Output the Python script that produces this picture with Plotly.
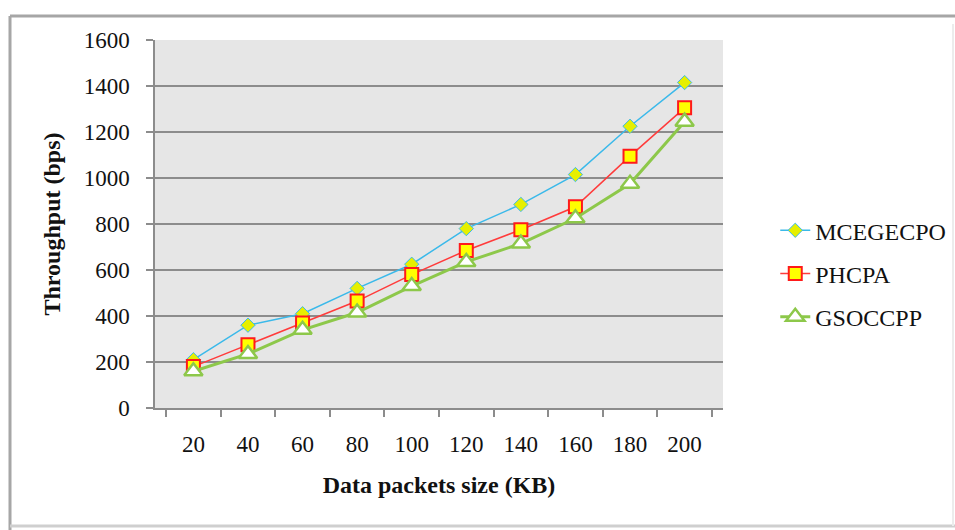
import plotly.graph_objects as go

# Data packet sizes (KB) and measured throughput (bps)
packet_sizes = ["20", "40", "60", "80", "100", "120", "140", "160", "180", "200"]
mcegecpo = [210, 360, 410, 520, 625, 780, 885, 1015, 1225, 1415]
phcpa = [180, 275, 370, 465, 580, 685, 775, 875, 1095, 1305]
gsoccpp = [160, 235, 340, 415, 530, 635, 715, 825, 975, 1245]
y_ticks = [0, 200, 400, 600, 800, 1000, 1200, 1400, 1600]

SERIF = "Liberation Serif"
GRID = "#8c8c8c"

fig = go.Figure()

fig.add_trace(go.Scatter(
    x=packet_sizes, y=mcegecpo, name="MCEGECPO", mode="lines+markers",
    legendgroup="a",
    line=dict(color="#3ab9ea", width=1.5),
    marker=dict(symbol="diamond", size=11, color="#e6ef00",
                line=dict(color="#3ab9ea", width=1)),
))
fig.add_trace(go.Scatter(
    x=packet_sizes, y=phcpa, name="PHCPA", mode="lines+markers",
    legendgroup="b",
    line=dict(color="#ff3b3b", width=1.5),
    marker=dict(symbol="square", size=13, color="#ffff00",
                line=dict(color="#ff1a1a", width=2)),
))
fig.add_trace(go.Scatter(
    x=packet_sizes, y=gsoccpp, name="GSOCCPP", mode="lines+markers",
    legendgroup="c",
    line=dict(color="#8dc84a", width=3),
    marker=dict(symbol="triangle-up", size=16, color="#ffffff",
                line=dict(color="#8dc84a", width=2.5)),
))

# outer chart frame
L, R, T, B = 155, 723, 40, 408
def px(x):
    return (x - L) / (R - L)
def py(y):
    return (B - y) / (B - T)

frame = [
    dict(x0=px(10), x1=px(955), y0=py(16), y1=py(16), color="#a6a6a6", width=3),
    dict(x0=px(10), x1=px(10), y0=py(16), y1=py(530), color="#a6a6a6", width=3),
    dict(x0=px(10), x1=px(955), y0=py(526), y1=py(526), color="#cfcfcf", width=3),
    dict(x0=px(953), x1=px(953), y0=py(24), y1=py(526), color="#ececec", width=2),
]
shapes = [
    dict(type="line", xref="paper", yref="paper", x0=f["x0"], x1=f["x1"],
         y0=f["y0"], y1=f["y1"], line=dict(color=f["color"], width=f["width"]),
         layer="above")
    for f in frame
]

fig.update_layout(
    width=955, height=530,
    margin=dict(l=L, r=955 - R, t=T, b=530 - B, autoexpand=False),
    paper_bgcolor="white",
    plot_bgcolor="#e6e6e6",
    font=dict(family=SERIF, color="#111111", size=23),
    showlegend=True,
    legend=dict(
        x=1.092, xanchor="left", y=0.543, yanchor="top",
        font=dict(family=SERIF, size=24, color="#111111"),
        tracegroupgap=9, bgcolor="rgba(0,0,0,0)",
    ),
    shapes=shapes,
    xaxis=dict(
        type="category",
        tickson="boundaries",
        ticks="outside", ticklen=7, tickcolor=GRID, tickwidth=1.5,
        showline=True, linecolor=GRID, linewidth=1.5,
        showgrid=False, zeroline=False,
        ticklabelstandoff=15,
        tickfont=dict(family=SERIF, size=23),
        title=dict(text="<b>Data packets size (KB)</b>",
                   font=dict(family=SERIF, size=24), standoff=20),
    ),
    yaxis=dict(
        range=[0, 1600], tickvals=y_ticks,
        ticks="outside", ticklen=7, tickcolor=GRID, tickwidth=1.5,
        showline=True, linecolor=GRID, linewidth=1.5,
        showgrid=True, gridcolor=GRID, gridwidth=1.5,
        zeroline=False,
        ticklabelstandoff=12,
        tickfont=dict(family=SERIF, size=23),
        title=dict(text="<b>Throughput (bps)</b>",
                   font=dict(family=SERIF, size=24), standoff=16),
    ),
)

fig.write_html("out.html")
